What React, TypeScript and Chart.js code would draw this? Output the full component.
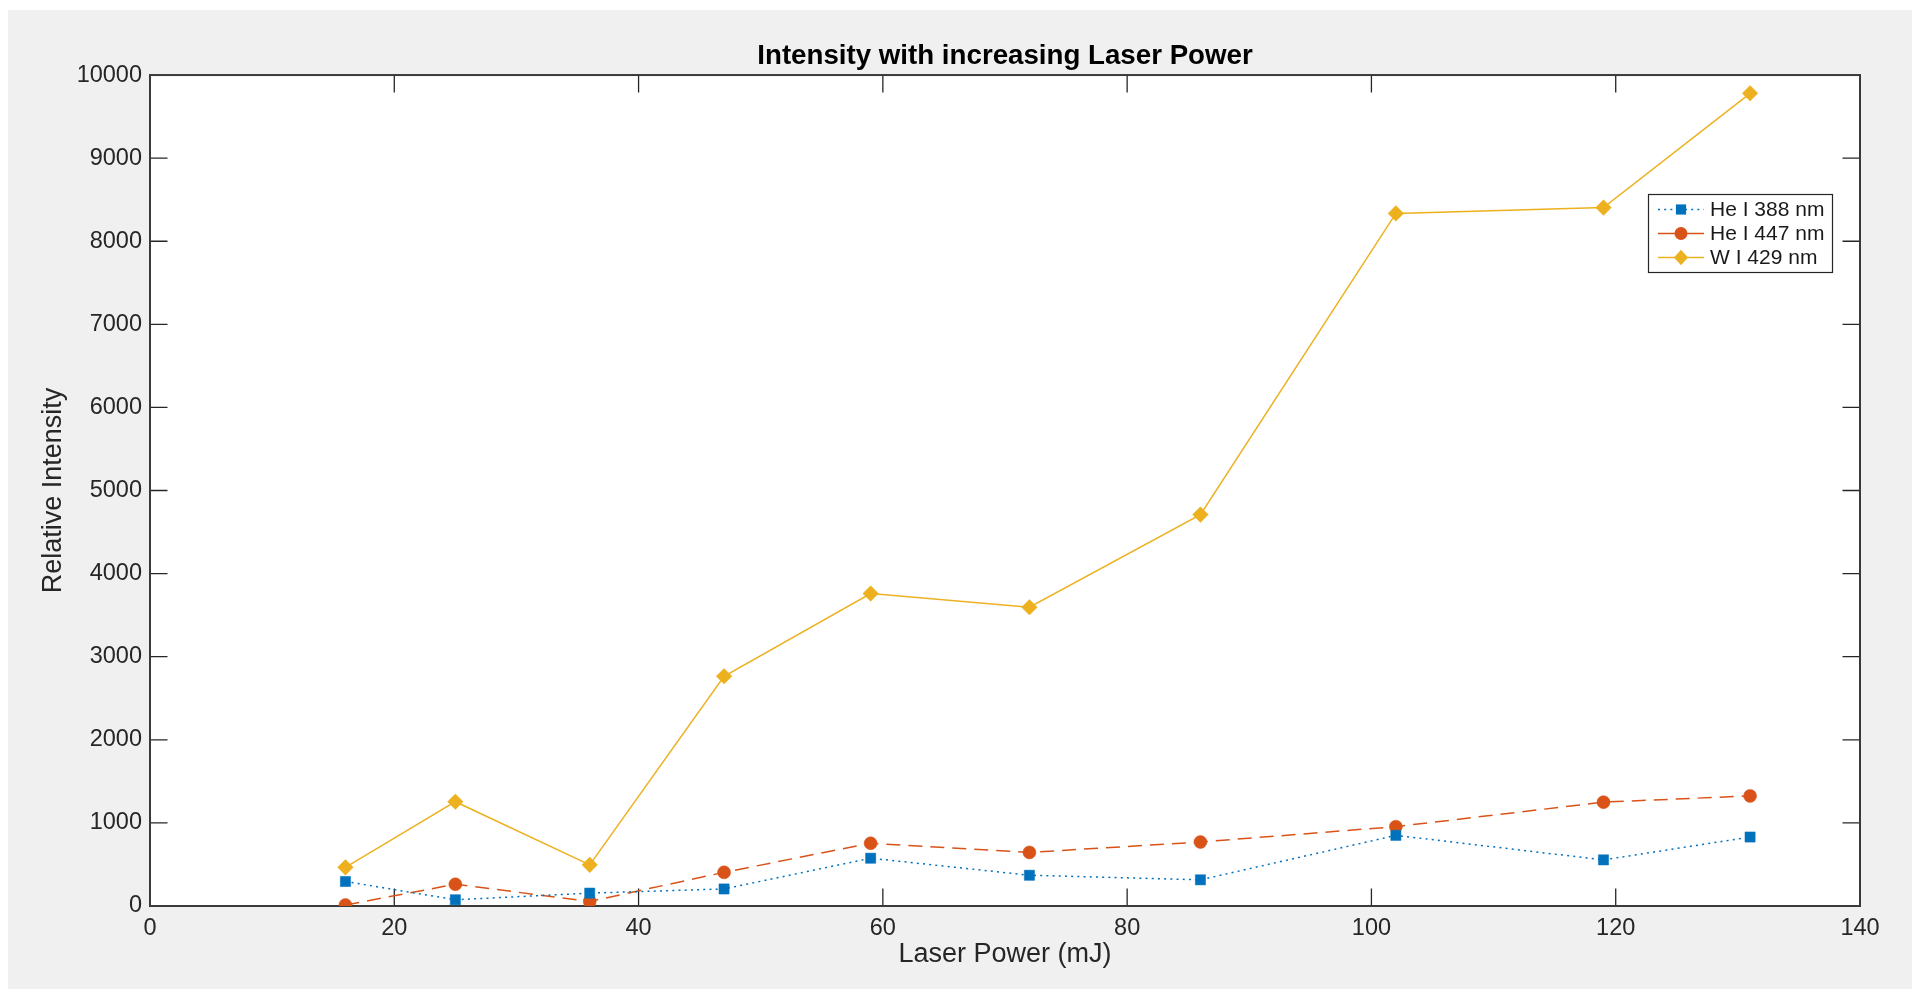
import React, { useEffect, useRef } from "react";
import { Chart, registerables } from "chart.js";

Chart.register(...registerables);

// ---- Data ----
const laserPower = [16, 25, 36, 47, 59, 72, 86, 102, 119, 131];
const heI388 = [295, 75, 155, 205, 575, 370, 315, 850, 555, 830];
const heI447 = [12, 262, 55, 405, 755, 645, 770, 955, 1250, 1325];
const wI429 = [465, 1255, 495, 2765, 3760, 3595, 4710, 8335, 8405, 9780];

const seriesLabels = ["He I 388 nm", "He I 447 nm", "W I 429 nm"];
const titleText = "Intensity with increasing Laser Power";
const xTitle = "Laser Power (mJ)";
const yTitle = "Relative Intensity";

const FONT = '"Liberation Sans", Arial, Helvetica, sans-serif';
const AXIS_COLOR = "#262626";

function toPoints(xs: number[], ys: number[]) {
  return xs.map((x, i) => ({ x, y: ys[i] }));
}

function drawMarker(ctx: CanvasRenderingContext2D, style: string, x: number, y: number, r: number, color: string) {
  ctx.save();
  ctx.fillStyle = color;
  ctx.beginPath();
  if (style === "rect") {
    const s = Math.SQRT1_2 * r;
    ctx.rect(x - s, y - s, 2 * s, 2 * s);
  } else if (style === "rectRot") {
    ctx.moveTo(x, y - r);
    ctx.lineTo(x + r * 0.9, y);
    ctx.lineTo(x, y + r);
    ctx.lineTo(x - r * 0.9, y);
    ctx.closePath();
  } else {
    ctx.arc(x, y, r, 0, Math.PI * 2);
  }
  ctx.fill();
  ctx.restore();
}

const backgroundPlugin = {
  id: "figBackground",
  beforeDraw(chart: any) {
    const { ctx, chartArea: a, width, height } = chart;
    ctx.save();
    ctx.fillStyle = "#F0F0F0";
    ctx.fillRect(0, 0, width, height);
    ctx.fillStyle = "#FFFFFF";
    ctx.fillRect(a.left, a.top, a.right - a.left, a.bottom - a.top);
    ctx.restore();
  },
};

const axesBoxPlugin = {
  id: "axesBox",
  beforeDatasetsDraw(chart: any) {
    const { ctx, chartArea: a } = chart;
    const xs = chart.scales.x;
    const ys = chart.scales.y;
    const tl = 17.5;
    ctx.save();
    ctx.strokeStyle = AXIS_COLOR;
    ctx.lineWidth = 1.3;
    ctx.beginPath();
    xs.ticks.forEach((t: any) => {
      if (t.value === xs.min || t.value === xs.max) return;
      const px = xs.getPixelForValue(t.value);
      ctx.moveTo(px, a.bottom);
      ctx.lineTo(px, a.bottom - tl);
      ctx.moveTo(px, a.top);
      ctx.lineTo(px, a.top + tl);
    });
    ys.ticks.forEach((t: any) => {
      if (t.value === ys.min || t.value === ys.max) return;
      const py = ys.getPixelForValue(t.value);
      ctx.moveTo(a.left, py);
      ctx.lineTo(a.left + tl, py);
      ctx.moveTo(a.right, py);
      ctx.lineTo(a.right - tl, py);
    });
    ctx.stroke();
    ctx.lineWidth = 2;
    ctx.strokeStyle = "#3a3a3a";
    ctx.strokeRect(a.left, a.top, a.right - a.left, a.bottom - a.top);
    ctx.restore();
  },
};

const legendPlugin = {
  id: "matlabLegend",
  afterDraw(chart: any) {
    const ctx = chart.ctx as CanvasRenderingContext2D;
    const x0 = 1640, y0 = 184, w = 184, h = 78;
    ctx.save();
    ctx.fillStyle = "#FFFFFF";
    ctx.fillRect(x0, y0, w, h);
    ctx.strokeStyle = AXIS_COLOR;
    ctx.lineWidth = 1.2;
    ctx.strokeRect(x0 + 0.5, y0 + 0.5, w, h);
    chart.data.datasets.forEach((ds: any, i: number) => {
      const cy = y0 + 15.5 + i * 24;
      const mx = x0 + 33;
      ctx.strokeStyle = ds.borderColor;
      ctx.lineWidth = ds.borderWidth;
      const dash = ds.borderDash || [];
      const isDashed = dash.length && dash[0] > 6;
      ctx.setLineDash(isDashed ? [] : dash);
      ctx.beginPath();
      ctx.moveTo(x0 + 10, cy);
      ctx.lineTo(mx - 4, cy);
      ctx.moveTo(mx + 4, cy);
      ctx.lineTo(x0 + 56, cy);
      ctx.stroke();
      ctx.setLineDash([]);
      drawMarker(ctx, ds.pointStyle, mx, cy, ds.pointRadius, ds.pointBackgroundColor);
      ctx.fillStyle = "#1a1a1a";
      ctx.font = `21px ${FONT}`;
      ctx.textBaseline = "middle";
      ctx.textAlign = "left";
      ctx.fillText(ds.label, x0 + 62, cy + 1);
    });
    ctx.restore();
  },
};

export default function App() {
  const ref = useRef<HTMLCanvasElement>(null);
  useEffect(() => {
    if (!ref.current) return;
    Chart.defaults.font.family = FONT;
    const chart = new Chart(ref.current, {
      type: "line",
      data: {
        datasets: [
          {
            label: seriesLabels[0],
            data: toPoints(laserPower, heI388),
            borderColor: "#0072BD",
            backgroundColor: "#0072BD",
            borderWidth: 1.5,
            borderDash: [2, 4.2],
            pointStyle: "rect",
            pointRadius: 7.2,
            pointBackgroundColor: "#0072BD",
            pointBorderColor: "#0072BD",
            pointBorderWidth: 0.5,
            fill: false,
            tension: 0,
          },
          {
            label: seriesLabels[1],
            data: toPoints(laserPower, heI447),
            borderColor: "#D95319",
            backgroundColor: "#D95319",
            borderWidth: 1.5,
            borderDash: [14, 8],
            pointStyle: "circle",
            pointRadius: 6.5,
            pointBackgroundColor: "#D95319",
            pointBorderColor: "#D95319",
            pointBorderWidth: 0.5,
            fill: false,
            tension: 0,
          },
          {
            label: seriesLabels[2],
            data: toPoints(laserPower, wI429),
            borderColor: "#EDB120",
            backgroundColor: "#EDB120",
            borderWidth: 1.5,
            pointStyle: "rectRot",
            pointRadius: 7.8,
            pointBackgroundColor: "#EDB120",
            pointBorderColor: "#EDB120",
            pointBorderWidth: 0.5,
            fill: false,
            tension: 0,
          },
        ],
      },
      options: {
        animation: false,
        responsive: false,
        maintainAspectRatio: false,
        devicePixelRatio: 1,
        layout: { padding: { left: 0, right: 52, top: 0, bottom: 0 } },
        plugins: {
          legend: { display: false },
          tooltip: { enabled: false },
          title: {
            display: true,
            fullSize: false,
            text: titleText,
            color: "#000000",
            font: { family: FONT, size: 27.7, weight: "bold", lineHeight: 1.2 },
            padding: { top: 29.5, bottom: 2.3 },
          },
        },
        scales: {
          x: {
            type: "linear",
            min: 0,
            max: 140,
            ticks: {
              stepSize: 20,
              autoSkip: false,
              maxRotation: 0,
              padding: 8.5,
              color: AXIS_COLOR,
              font: { family: FONT, size: 23.5 },
              callback: (v: any) => String(v),
            },
            grid: { display: false, drawTicks: false },
            border: { display: false },
            title: {
              display: true,
              text: xTitle,
              color: AXIS_COLOR,
              font: { family: FONT, size: 27 },
              padding: { top: 0, bottom: 18 },
            },
            afterFit: (s: any) => {
              s.height = 83;
            },
          },
          y: {
            type: "linear",
            min: 0,
            max: 10000,
            ticks: {
              stepSize: 1000,
              autoSkip: false,
              padding: 8,
              color: AXIS_COLOR,
              font: { family: FONT, size: 23.5 },
              callback: (v: any) => String(v),
            },
            grid: { display: false, drawTicks: false },
            border: { display: false },
            title: {
              display: true,
              text: yTitle,
              color: AXIS_COLOR,
              font: { family: FONT, size: 27 },
              padding: { top: 29.5, bottom: 0 },
            },
            afterFit: (s: any) => {
              s.width = 142;
            },
          },
        },
      } as any,
      plugins: [backgroundPlugin, axesBoxPlugin, legendPlugin],
    });
    return () => chart.destroy();
  }, []);

  return (
    <canvas
      ref={ref}
      width={1904}
      height={979}
      style={{ position: "fixed", left: 8, top: 10, width: 1904, height: 979, display: "block" }}
    />
  );
}
